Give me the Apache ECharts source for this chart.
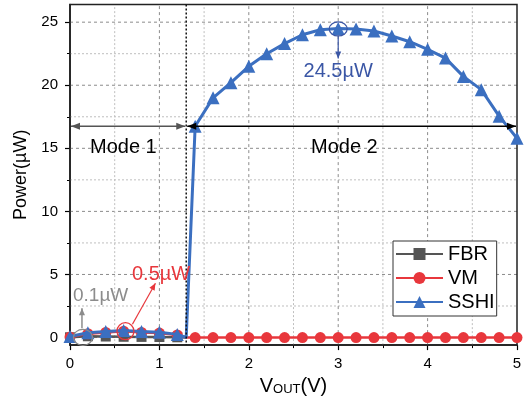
<!DOCTYPE html>
<html><head><meta charset="utf-8">
<script src="https://cdn.jsdelivr.net/npm/echarts@6/dist/echarts.min.js"></script>
<style>html,body{margin:0;padding:0;background:#fff}#c{width:529px;height:401px}</style>
</head><body><div id="c"></div>
<script>
// ---- data ----
const vLow = [0, 0.2, 0.4, 0.6, 0.8, 1.0, 1.2, 1.3];
const fbrLow = [0.02, 0.1, 0.08, 0.06, 0.05, 0.04, 0.02, 0];
const vmLow = [0.05, 0.3, 0.4, 0.5, 0.4, 0.35, 0.2, 0];
const sshiLow = [0.08, 0.38, 0.48, 0.55, 0.48, 0.42, 0.25, 0];
const vHigh = [1.4, 1.6, 1.8, 2.0, 2.2, 2.4, 2.6, 2.8, 3.0, 3.2, 3.4, 3.6, 3.8, 4.0, 4.2, 4.4, 4.6, 4.8, 5.0];
const vmHigh = [0, 0, 0, 0, 0, 0, 0, 0, 0, 0, 0, 0, 0, 0, 0, 0, 0, 0, 0];
const sshiHigh = [16.75, 19.0, 20.2, 21.5, 22.5, 23.3, 24.0, 24.4, 24.5, 24.45, 24.3, 23.9, 23.45, 22.85, 22.15, 20.7, 19.65, 17.55, 15.8];
const seriesNames = ['FBR', 'VM', 'SSHI'];
const xMajor = [1, 2, 3, 4];
const xMinor = [0.5, 1.5, 2.5, 3.5, 4.5];
const yMajor = [0, 5, 10, 15, 20, 25];
const yMinor = [2.5, 7.5, 12.5, 17.5, 22.5];
const modeBoundary = 1.3;
const modeArrowLevel = 16.75;

(function () {
const FONT = 'Liberation Sans, Arial, sans-serif';
const C_FBR = '#555555', C_VM = '#e8373c', C_SSHI = '#3b6fc0';
const Y_MIN = -0.6, Y_MAX = 26.4;
const MAJOR_GRID = '#8c8c8c', MINOR_GRID = '#bfbfbf';

function pts(xs, ys) {
  return xs.map((x, i) => (x === modeBoundary ? { value: [x, ys[i]], symbol: 'none' } : [x, ys[i]]));
}

const chart = echarts.init(document.getElementById('c'), null, { renderer: 'canvas' });

chart.setOption({
  animation: false,
  backgroundColor: '#fff',
  textStyle: { fontFamily: FONT },
  grid: { left: 70, right: 12, top: 4.5, bottom: 54, show: false },
  legend: {
    data: seriesNames,
    orient: 'vertical', left: 393, top: 241, z: 90,
    itemWidth: 47, itemHeight: 15, itemGap: 4,
    padding: [3, 2, 4, 2],
    borderColor: '#333', borderWidth: 1, backgroundColor: '#fff',
    textStyle: { fontSize: 20, color: '#000', fontFamily: FONT, lineHeight: 20 }
  },
  xAxis: {
    type: 'value', min: 0, max: 5, interval: 1,
    axisLine: { show: true, onZero: false, lineStyle: { color: '#000', width: 1.5 } },
    axisTick: { show: true, length: 5, lineStyle: { color: '#000', width: 1.2 } },
    minorTick: { show: true, splitNumber: 2, length: 3, lineStyle: { color: '#000', width: 1 } },
    axisLabel: { fontSize: 15, color: '#000', margin: 11, fontFamily: FONT },
    splitLine: { show: false },
    minorSplitLine: { show: false },
    name: '{v|V}{s|OUT}{v|(V)}', nameLocation: 'middle', nameGap: 24,
    nameTextStyle: { rich: {
      v: { fontSize: 20, lineHeight: 26, verticalAlign: 'bottom', color: '#000', fontFamily: FONT },
      s: { fontSize: 13, lineHeight: 11, verticalAlign: 'bottom', color: '#000', fontFamily: FONT }
    } }
  },
  yAxis: [{
    type: 'value', min: Y_MIN, max: Y_MAX,
    axisLine: { show: true, onZero: false, lineStyle: { color: '#000', width: 1.5 } },
    axisTick: { show: true, length: 5, customValues: yMajor, lineStyle: { color: '#000', width: 1.2 } },
    axisLabel: { fontSize: 15, color: '#000', margin: 12, customValues: yMajor, fontFamily: FONT },
    splitLine: { show: false },
    name: 'Power(\u00b5W)', nameLocation: 'middle', nameGap: 35,
    nameTextStyle: { fontSize: 18, color: '#000', fontFamily: FONT }
  }, {
    type: 'value', min: Y_MIN, max: Y_MAX, position: 'left',
    axisLine: { show: false },
    axisTick: { show: true, length: 3, customValues: yMinor, lineStyle: { color: '#000', width: 1 } },
    axisLabel: { show: false },
    splitLine: { show: false }
  }],
  series: [
    { name: 'FBR', type: 'line', data: pts(vLow, fbrLow), symbol: 'rect', symbolSize: 10,
      itemStyle: { color: C_FBR }, lineStyle: { color: C_FBR, width: 2.5 }, z: 70 },
    { name: 'VM', type: 'line', data: pts(vLow.concat(vHigh), vmLow.concat(vmHigh)), symbol: 'circle', symbolSize: 11,
      itemStyle: { color: C_VM }, lineStyle: { color: C_VM, width: 2.5 }, z: 71 },
    { name: 'SSHI', type: 'line', data: pts(vLow.concat(vHigh), sshiLow.concat(sshiHigh)), symbol: 'triangle', symbolSize: 13,
      itemStyle: { color: C_SSHI }, lineStyle: { color: C_SSHI, width: 3 }, z: 72 }
  ]
});

// ---- annotations and grid (placed from data coordinates) ----
const P = (x, y) => chart.convertToPixel({ xAxisIndex: 0, yAxisIndex: 0 }, [x, y]);
function head(tip, from, len, hw, color) {
  const dx = tip[0] - from[0], dy = tip[1] - from[1];
  const d = Math.hypot(dx, dy), ux = dx / d, uy = dy / d;
  const bx = tip[0] - ux * len, by = tip[1] - uy * len;
  return { type: 'polygon', z: 100, shape: { points: [tip, [bx - uy * hw, by + ux * hw], [bx + uy * hw, by - ux * hw]] }, style: { fill: color } };
}
function arrow(a, b, color, w, both, len, hw) {
  const out = [{ type: 'line', z: 100, shape: { x1: a[0], y1: a[1], x2: b[0], y2: b[1] }, style: { stroke: color, lineWidth: w } }];
  out.push(head(b, a, len, hw, color));
  if (both) out.push(head(a, b, len, hw, color));
  return out;
}
function txt(x, y, s, color, size, align) {
  return { type: 'text', z: 100, x: x, y: y, style: { text: s, fill: color, font: size + 'px ' + FONT, textAlign: align || 'left', textVerticalAlign: 'middle' } };
}
const g = [];
function gline(p, q, color, dash, w) {
  g.push({ type: 'line', z: 55, shape: { x1: p[0], y1: p[1], x2: q[0], y2: q[1] }, style: { stroke: color, lineWidth: w, lineDash: dash } });
}
yMinor.forEach(v => { const a = P(0, v), b = P(5, v); gline([a[0], a[1]], [b[0], b[1]], MINOR_GRID, [2, 2], 1); });
yMajor.forEach(v => { const a = P(0, v), b = P(5, v); gline([a[0], a[1]], [b[0], b[1]], MAJOR_GRID, [3, 3], 1); });
xMinor.forEach(v => { const a = P(v, Y_MIN), b = P(v, Y_MAX); gline([a[0], a[1]], [b[0], b[1]], MINOR_GRID, [2, 2], 1); });
xMajor.forEach(v => { const a = P(v, Y_MIN), b = P(v, Y_MAX); gline([a[0], a[1]], [b[0], b[1]], MAJOR_GRID, [3, 3], 1); });
// plot frame
const c0 = P(0, Y_MAX), c1 = P(5, Y_MIN);
g.push({ type: 'rect', z: 60, shape: { x: c0[0], y: c0[1], width: c1[0] - c0[0], height: c1[1] - c0[1] }, style: { fill: null, stroke: '#222', lineWidth: 1.5 } });

const pTop = P(modeBoundary, Y_MAX), pBot = P(modeBoundary, Y_MIN);
g.push({ type: 'line', z: 99, shape: { x1: pTop[0], y1: pTop[1], x2: pBot[0], y2: pBot[1] }, style: { stroke: '#111', lineWidth: 1.5, lineDash: [2, 2] } });
const m0 = P(0, modeArrowLevel), m1 = P(modeBoundary, modeArrowLevel), m2 = P(5, modeArrowLevel);
g.push(...arrow([m0[0] + 1, m0[1]], [m1[0] - 1, m1[1]], '#555', 1.5, true, 9, 3.5));
g.push(...arrow([m1[0] + 1, m1[1]], [m2[0] - 1, m2[1]], '#000', 1.5, true, 9, 3.5));
g.push(txt(90, 147, 'Mode 1', '#000', 20));
g.push(txt(311, 147, 'Mode 2', '#000', 20));
// FBR 0.1 uW
const e1 = P(0.145, 0.02);
g.push({ type: 'ellipse', z: 100, shape: { cx: e1[0], cy: e1[1], rx: 9.5, ry: 8 }, style: { fill: 'none', stroke: '#8c8c8c', lineWidth: 1.2 } });
g.push(...arrow([e1[0] - 1, e1[1] - 9], [e1[0] - 1, e1[1] - 29], '#8c8c8c', 1.5, false, 7, 3));
g.push(txt(73, 296, '0.1\u00b5W', '#8c8c8c', 19));
// VM 0.5 uW
const e2 = P(0.62, 0.5);
g.push({ type: 'circle', z: 100, shape: { cx: e2[0], cy: e2[1], r: 8.5 }, style: { fill: 'none', stroke: C_VM, lineWidth: 1.2 } });
g.push(...arrow([e2[0] + 7, e2[1] - 7], [e2[0] + 30, e2[1] - 48], C_VM, 1.2, false, 7, 3));
g.push(txt(132, 274, '0.5\u00b5W', C_VM, 20));
// SSHI 24.5 uW
const e3 = P(3.0, 24.5);
g.push({ type: 'ellipse', z: 100, shape: { cx: e3[0], cy: e3[1] + 0.5, rx: 9, ry: 7 }, style: { fill: 'none', stroke: '#3a56a5', lineWidth: 1.2 } });
g.push(...arrow([e3[0], e3[1] + 7], [e3[0], e3[1] + 30], '#3a56a5', 1.2, false, 7, 3));
g.push(txt(e3[0], e3[1] + 43, '24.5\u00b5W', '#3a56a5', 20, 'center'));
chart.setOption({ graphic: g });
})();
</script></body></html>
